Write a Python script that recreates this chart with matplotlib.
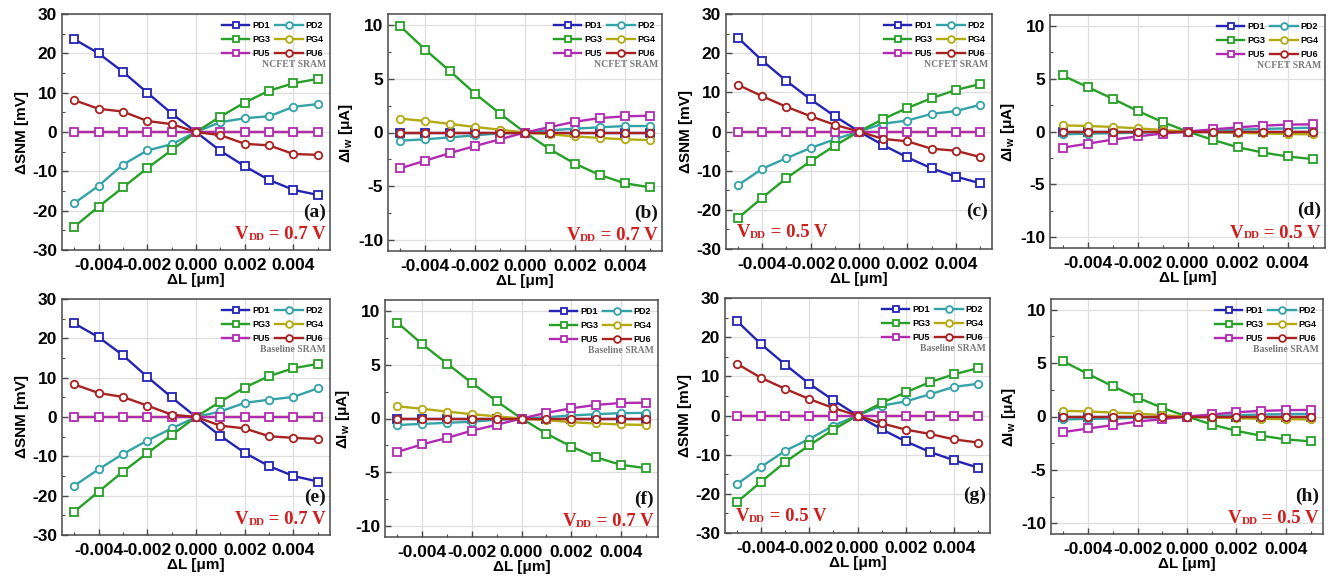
import matplotlib
matplotlib.use('Agg')
import matplotlib.pyplot as plt
from matplotlib.ticker import MultipleLocator, FormatStrFormatter
import matplotlib.transforms as mtransforms

plt.rcParams['axes.unicode_minus'] = False
plt.rcParams['font.family'] = ['Liberation Sans', 'DejaVu Sans']
plt.rcParams['font.weight'] = 'bold'
plt.rcParams['mathtext.fontset'] = 'custom'
plt.rcParams['mathtext.rm'] = 'Liberation Serif:bold'
plt.rcParams['mathtext.bf'] = 'Liberation Serif:bold'
plt.rcParams['mathtext.sf'] = 'Liberation Sans:bold'

# ---------------- data ----------------
dL = [-0.005, -0.004, -0.003, -0.002, -0.001, 0.0, 0.001, 0.002, 0.003, 0.004, 0.005]
names = ['PD1', 'PD2', 'PG3', 'PG4', 'PU5', 'PU6']
zero_series = [0, 0, 0, 0, 0, 0, 0, 0, 0, 0, 0]

# (a) NCFET SRAM, dSNM, VDD=0.7
a_PD1 = [23.6, 20.0, 15.3, 10.0, 4.7, 0, -4.8, -8.7, -12.2, -14.7, -16.0]
a_PD2 = [-18.1, -13.7, -8.3, -4.7, -3.1, 0, 2.5, 3.5, 4.0, 6.4, 7.1]
a_PG3 = [-24.1, -19.0, -14.1, -9.2, -4.6, 0, 3.9, 7.5, 10.5, 12.4, 13.5]
a_PG4 = zero_series
a_PU5 = zero_series
a_PU6 = [8.1, 5.9, 5.2, 2.8, 2.0, 0, -0.8, -3.0, -3.4, -5.6, -5.8]

# (b) NCFET SRAM, dIw, VDD=0.7
b_PD1 = zero_series
b_PD2 = [-0.76, -0.63, -0.45, -0.26, -0.08, 0, 0.2, 0.36, 0.48, 0.6, 0.6]
b_PG3 = [9.85, 7.68, 5.67, 3.6, 1.75, 0, -1.56, -2.89, -3.94, -4.71, -5.08]
b_PG4 = [1.28, 1.07, 0.79, 0.51, 0.26, 0, -0.17, -0.36, -0.51, -0.63, -0.7]
b_PU5 = [-3.32, -2.61, -1.9, -1.25, -0.63, 0, 0.51, 1.0, 1.34, 1.5, 1.56]
b_PU6 = zero_series

# (c) NCFET SRAM, dSNM, VDD=0.5
c_PD1 = [23.9, 18.1, 12.9, 8.2, 3.9, 0, -3.5, -6.6, -9.4, -11.5, -13.2]
c_PD2 = [-13.7, -9.5, -6.8, -4.2, -2.0, 0, 2.0, 2.8, 4.5, 5.2, 6.8]
c_PG3 = [-22.1, -16.9, -11.9, -7.6, -3.6, 0, 3.2, 6.0, 8.5, 10.6, 12.1]
c_PG4 = zero_series
c_PU5 = zero_series
c_PU6 = [11.9, 9.0, 6.3, 3.9, 1.7, 0, -1.9, -2.5, -4.4, -4.9, -6.5]

# (d) NCFET SRAM, dIw, VDD=0.5
d_PD1 = zero_series
d_PD2 = [-0.27, -0.2, -0.17, -0.11, -0.05, 0, 0.1, 0.17, 0.24, 0.3, 0.36]
d_PG3 = [5.3, 4.2, 3.1, 1.95, 0.9, 0, -0.78, -1.48, -1.98, -2.36, -2.6]
d_PG4 = [0.58, 0.52, 0.43, 0.3, 0.14, 0, -0.06, -0.12, -0.18, -0.24, -0.27]
d_PU5 = [-1.53, -1.15, -0.77, -0.46, -0.2, 0, 0.2, 0.39, 0.55, 0.65, 0.68]
d_PU6 = zero_series

# (e) Baseline SRAM, dSNM, VDD=0.7
e_PD1 = [23.8, 20.3, 15.7, 10.2, 5.0, 0, -4.8, -9.1, -12.5, -15.0, -16.4]
e_PD2 = [-17.5, -13.3, -9.4, -6.0, -2.9, 0, 1.4, 3.6, 4.4, 5.1, 7.3]
e_PG3 = [-24.1, -19.0, -13.9, -9.2, -4.6, 0, 3.9, 7.5, 10.4, 12.4, 13.5]
e_PG4 = zero_series
e_PU5 = zero_series
e_PU6 = [8.3, 6.1, 5.1, 2.9, 0.6, 0, -2.2, -2.9, -4.9, -5.3, -5.6]

# (f) Baseline SRAM, dIw, VDD=0.7
f_PD1 = zero_series
f_PD2 = [-0.6, -0.5, -0.4, -0.3, -0.12, 0, 0.12, 0.28, 0.4, 0.5, 0.52]
f_PG3 = [8.9, 6.9, 5.1, 3.3, 1.6, 0, -1.4, -2.6, -3.6, -4.3, -4.6]
f_PG4 = [1.13, 0.9, 0.64, 0.4, 0.2, 0, -0.15, -0.34, -0.46, -0.55, -0.6]
f_PU5 = [-3.1, -2.4, -1.8, -1.13, -0.58, 0, 0.52, 0.95, 1.26, 1.44, 1.47]
f_PU6 = zero_series

# (g) Baseline SRAM, dSNM, VDD=0.5
g_PD1 = [24.1, 18.2, 13.0, 8.1, 3.9, 0, -3.5, -6.6, -9.3, -11.4, -13.3]
g_PD2 = [-17.5, -13.1, -9.0, -6.0, -2.6, 0, 2.5, 3.6, 5.4, 7.3, 8.1]
g_PG3 = [-22.1, -16.9, -11.9, -7.6, -3.6, 0, 3.2, 5.9, 8.5, 10.5, 12.1]
g_PG4 = zero_series
g_PU5 = zero_series
g_PU6 = [13.2, 9.6, 6.8, 4.2, 1.9, 0, -2.0, -3.6, -4.7, -6.1, -6.9]

# (h) Baseline SRAM, dIw, VDD=0.5
h_PD1 = zero_series
h_PD2 = [-0.28, -0.22, -0.19, -0.12, -0.06, 0, 0.06, 0.12, 0.19, 0.22, 0.25]
h_PG3 = [5.16, 3.98, 2.83, 1.77, 0.81, 0, -0.75, -1.34, -1.8, -2.14, -2.33]
h_PG4 = [0.53, 0.47, 0.37, 0.28, 0.12, 0, -0.09, -0.16, -0.22, -0.25, -0.28]
h_PU5 = [-1.46, -1.12, -0.81, -0.47, -0.25, 0, 0.19, 0.4, 0.53, 0.59, 0.62]
h_PU6 = zero_series

colors = ['#2323b4', '#33a3a8', '#26a026', '#b3aa12', '#b22ab2', '#a82222']
markers = ['s', 'o', 's', 'o', 's', 'o']

W, H = 1328, 578
fig = plt.figure(figsize=(W / 100, H / 100), dpi=100)
renderer = fig.canvas.get_renderer()

panels = [
    ('(a)', [a_PD1, a_PD2, a_PG3, a_PG4, a_PU5, a_PU6], 'snm', 'NCFET SRAM', '0.7', (62, 330, 14, 250), False),
    ('(b)', [b_PD1, b_PD2, b_PG3, b_PG4, b_PU5, b_PU6], 'iw', 'NCFET SRAM', '0.7', (388, 662, 14, 251), False),
    ('(c)', [c_PD1, c_PD2, c_PG3, c_PG4, c_PU5, c_PU6], 'snm', 'NCFET SRAM', '0.5', (726, 992, 14, 249), True),
    ('(d)', [d_PD1, d_PD2, d_PG3, d_PG4, d_PU5, d_PU6], 'iw', 'NCFET SRAM', '0.5', (1050, 1325, 15, 248), False),
    ('(e)', [e_PD1, e_PD2, e_PG3, e_PG4, e_PU5, e_PU6], 'snm', 'Baseline SRAM', '0.7', (62, 330, 299, 535), False),
    ('(f)', [f_PD1, f_PD2, f_PG3, f_PG4, f_PU5, f_PU6], 'iw', 'Baseline SRAM', '0.7', (385, 658, 300, 537), False),
    ('(g)', [g_PD1, g_PD2, g_PG3, g_PG4, g_PU5, g_PU6], 'snm', 'Baseline SRAM', '0.5', (725, 990, 298, 533), True),
    ('(h)', [h_PD1, h_PD2, h_PG3, h_PG4, h_PU5, h_PU6], 'iw', 'Baseline SRAM', '0.5', (1051, 1323, 299, 534), False),
]

serif = ['Liberation Serif', 'DejaVu Serif']
spine_c = '#4a4a4a'
red = '#cc1f1f'


def vdd_label(ax, xa, ya, vdd, align):
    pieces = [('V', 13.5, 0), ('DD', 8.0, -0.5), (' = ' + vdd + ' V', 13.5, 0)]
    texts = []
    widths = []
    for s, fs, dy in pieces:
        t = ax.text(xa, ya, s, transform=ax.transAxes, ha='left', va='baseline',
                    fontsize=fs, fontweight='bold', family=serif, color=red)
        widths.append(t.get_window_extent(renderer).width)
        texts.append(t)
    total = sum(widths)
    x0 = -total if align == 'right' else 0.0
    for t, w, (s, fs, dy) in zip(texts, widths, pieces):
        t.set_transform(mtransforms.offset_copy(ax.transAxes, fig=fig, x=x0, y=dy, units='dots'))
        x0 += w


for lab, series, kind, sram, vdd, (L, R, T, B), vdd_left in panels:
    ax = fig.add_axes([L / W, 1 - B / H, (R - L) / W, (B - T) / H])
    handles = []
    for name, ys, c, m in zip(names, series, colors, markers):
        h, = ax.plot(dL, ys, color=c, lw=1.7, marker=m, ms=5.4, mfc='white',
                     mec=c, mew=1.3, label=name, zorder=3)
        handles.append(h)
    ax.set_xlim(-0.0055, 0.0055)
    ax.xaxis.set_major_locator(MultipleLocator(0.002))
    ax.xaxis.set_minor_locator(MultipleLocator(0.001))
    ax.xaxis.set_major_formatter(FormatStrFormatter('%.3f'))
    if kind == 'snm':
        ax.set_ylim(-30, 30)
        ax.yaxis.set_major_locator(MultipleLocator(10))
        ax.yaxis.set_minor_locator(MultipleLocator(5))
        ax.set_ylabel('ΔSNM [mV]', fontsize=11, fontweight='bold', labelpad=2)
    else:
        ax.set_ylim(-11, 11)
        ax.yaxis.set_major_locator(MultipleLocator(5))
        ax.yaxis.set_minor_locator(MultipleLocator(2.5))
        ax.set_ylabel('ΔI$_\\mathsf{w}$ [μA]', fontsize=11, fontweight='bold', labelpad=2)
    ax.set_xlabel('ΔL [μm]', fontsize=11, fontweight='bold', labelpad=0)
    ax.grid(True, which='major', color='#dedede', lw=0.9, zorder=0)
    ax.set_axisbelow(True)
    ax.tick_params(which='both', direction='in', color=spine_c, labelsize=12.5)
    ax.tick_params(which='major', length=4.5, width=1)
    ax.tick_params(which='minor', length=2.5, width=0.8)
    ax.tick_params(axis='x', pad=6)
    for lbl in ax.get_xticklabels() + ax.get_yticklabels():
        lbl.set_fontweight('bold')
    for s in ax.spines.values():
        s.set_color(spine_c)
        s.set_linewidth(1.1)

    # legend filled row by row: PD1 PD2 / PG3 PG4 / PU5 PU6
    order = [0, 2, 4, 1, 3, 5]
    ax.legend([handles[i] for i in order], [names[i] for i in order],
              ncol=2, loc='upper right', frameon=False,
              prop={'weight': 'bold', 'size': 6.5},
              handlelength=3.0, handletextpad=0.3, columnspacing=0.6,
              labelspacing=0.55, borderaxespad=0.35, markerscale=0.9,
              bbox_to_anchor=(1.0, 1.0))
    ax.text(0.985, 0.785, sram, transform=ax.transAxes, ha='right', va='center',
            fontsize=7, color='#7a7a7a', fontweight='bold', family=serif)

    ax.text(0.985, 0.16, lab, transform=ax.transAxes, ha='right', va='center',
            fontsize=14, fontweight='bold', family=serif, color='#111111')
    if vdd_left:
        vdd_label(ax, 0.04, 0.05, vdd, 'left')
    else:
        vdd_label(ax, 0.985, 0.045, vdd, 'right')

fig.savefig('out.png', dpi=100)
